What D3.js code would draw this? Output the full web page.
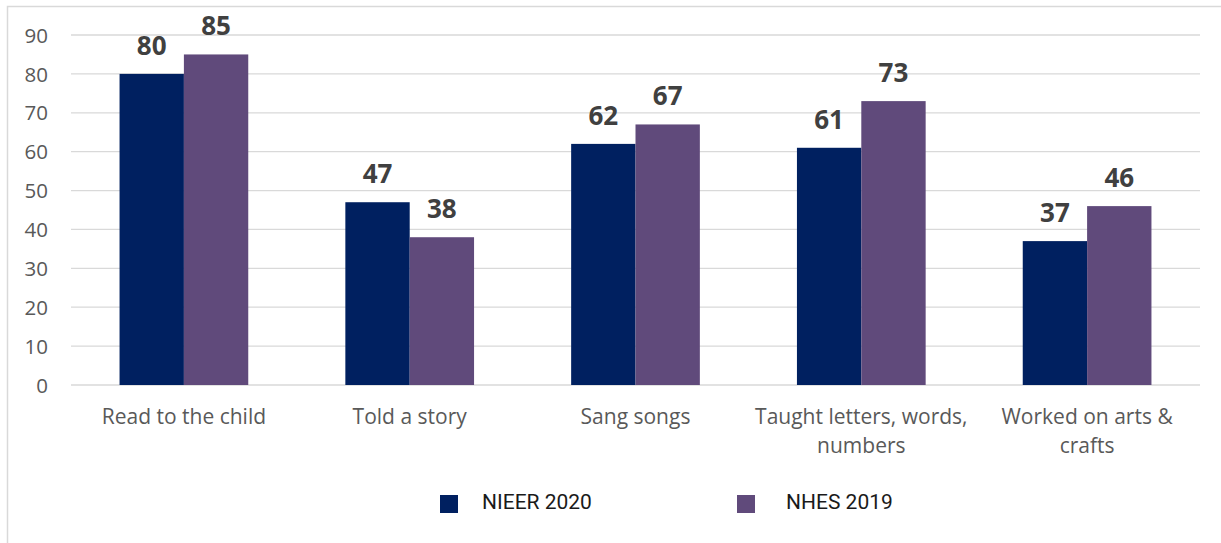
<!DOCTYPE html>
<meta charset="utf-8">
<script src="https://cdn.jsdelivr.net/npm/d3@7"></script>
<head>
<style>
    body { margin: 0; background: #fff; }
    .axis text { font-family: "Open Sans", sans-serif; fill: #595959; }
</style>
</head>
<body>
<script>

    var categories = ["Read to the child", "Told a story", "Sang songs",
        "Taught letters, words,\nnumbers", "Worked on arts &\ncrafts"];
    var seriesNames = ["NIEER 2020", "NHES 2019"];
    var nieer2020 = [80, 47, 62, 61, 37];
    var nhes2019 = [85, 38, 67, 73, 46];
    var yTicks = [0, 10, 20, 30, 40, 50, 60, 70, 80, 90];

    var colors = ["#002060", "#604a7b"];

    var width = 1221;
    var height = 543;

    var plotLeft = 71;
    var plotRight = 1200;
    var plotTop = 35;
    var plotBottom = 385;

    var svg = d3.select("body").append("svg")
        .attr("width", width)
        .attr("height", height);

    // chart area border
    svg.append("rect")
        .attr("x", 7.5)
        .attr("y", 6.5)
        .attr("width", width + 20)
        .attr("height", height + 20)
        .style("fill", "none")
        .style("stroke", "#d9d9d9")
        .style("stroke-width", 1.5);

    var x0 = d3.scaleBand()
        .domain(categories)
        .range([plotLeft, plotRight])
        .paddingInner(0.43)
        .paddingOuter(0.215);

    var x1 = d3.scaleBand()
        .domain(seriesNames)
        .range([0, x0.bandwidth()]);

    var y = d3.scaleLinear()
        .domain([0, 90])
        .range([plotBottom, plotTop]);

    // gridlines
    svg.append("g")
        .selectAll("line")
        .data(yTicks)
        .enter()
        .append("line")
        .attr("x1", plotLeft)
        .attr("x2", plotRight)
        .attr("y1", function(d) { return y(d); })
        .attr("y2", function(d) { return y(d); })
        .style("stroke", "#d9d9d9")
        .style("stroke-width", 1.3);

    // y axis labels
    var yAxis = svg.append("g")
        .attr("class", "axis")
        .attr("transform", "translate(" + (plotLeft - 13) + ",0)")
        .call(d3.axisLeft(y).tickValues(yTicks).tickSize(0).tickPadding(10));
    yAxis.select(".domain").remove();
    yAxis.selectAll("text")
        .style("font-size", "20.5px")
        .attr("dy", "0.35em");

    var rows = categories.map(function(c, i) {
        return { cat: c, values: [nieer2020[i], nhes2019[i]] };
    });

    var groups = svg.selectAll(".catGroup")
        .data(rows)
        .enter()
        .append("g")
        .attr("class", "catGroup")
        .attr("transform", function(d) { return "translate(" + x0(d.cat) + ",0)"; });

    groups.selectAll("rect")
        .data(function(d) { return d.values.map(function(v, j) { return { name: seriesNames[j], v: v, j: j }; }); })
        .enter()
        .append("rect")
        .attr("x", function(d) { return x1(d.name); })
        .attr("y", function(d) { return y(d.v); })
        .attr("width", x1.bandwidth())
        .attr("height", function(d) { return y(0) - y(d.v); })
        .style("fill", function(d) { return colors[d.j]; });

    groups.selectAll(".valLabel")
        .data(function(d) { return d.values.map(function(v, j) { return { name: seriesNames[j], v: v }; }); })
        .enter()
        .append("text")
        .attr("class", "valLabel")
        .attr("x", function(d) { return x1(d.name) + x1.bandwidth() / 2; })
        .attr("y", function(d) { return y(d.v) - 19; })
        .attr("text-anchor", "middle")
        .style("font-family", "'Open Sans', sans-serif")
        .style("font-weight", "bold")
        .style("font-size", "26px")
        .style("fill", "#404040")
        .text(function(d) { return d.v; });

    // category labels
    var catLabels = svg.append("g")
        .attr("class", "axis")
        .selectAll("text")
        .data(categories)
        .enter()
        .append("text")
        .attr("x", function(d) { return x0(d) + x0.bandwidth() / 2; })
        .attr("y", 424)
        .attr("text-anchor", "middle")
        .style("font-size", "21px");

    catLabels.selectAll("tspan")
        .data(function(d) { return d.split("\n"); })
        .enter()
        .append("tspan")
        .attr("x", function() { var p = this.parentNode; return p.getAttribute("x"); })
        .attr("dy", function(d, i) { return i === 0 ? 0 : 29; })
        .text(function(d) { return d; });

    // legend
    var legendX = [440, 737];
    var legend = svg.selectAll(".legendItem")
        .data(seriesNames)
        .enter()
        .append("g")
        .attr("class", "legendItem")
        .attr("transform", function(d, i) { return "translate(" + legendX[i] + ",495)"; });

    legend.append("rect")
        .attr("width", 18)
        .attr("height", 18)
        .style("fill", function(d, i) { return colors[i]; });

    legend.append("text")
        .attr("x", function(d, i) { return i === 0 ? 42 : 49; })
        .attr("y", 14)
        .style("font-family", "Roboto, sans-serif")
        .style("font-size", "21px")
        .style("fill", "#1a1a1a")
        .text(function(d) { return d; });

</script>
</body>
</html>
